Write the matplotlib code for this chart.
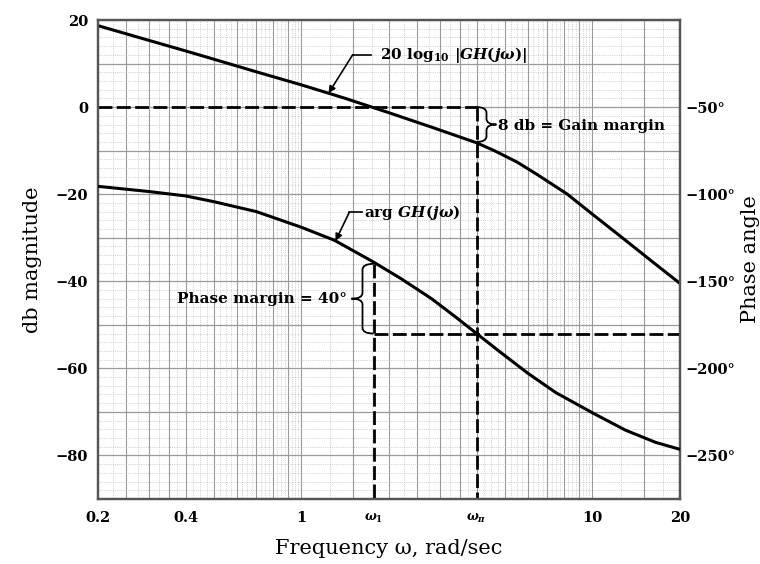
import numpy as np
import matplotlib.pyplot as plt
from matplotlib.path import Path
from matplotlib.patches import PathPatch
from matplotlib.ticker import NullLocator

plt.rcParams['font.family'] = ['DejaVu Serif']
plt.rcParams['mathtext.fontset'] = 'custom'
plt.rcParams['mathtext.rm'] = 'DejaVu Serif:bold'
plt.rcParams['mathtext.it'] = 'DejaVu Serif:italic:bold'
plt.rcParams['mathtext.bf'] = 'DejaVu Serif:bold'

# values
omega_mag = [0.2, 0.3, 0.4, 0.5, 0.7, 1.0, 1.4, 2.0, 2.8, 4.0, 4.6, 5.5, 6.5, 8.2, 10,
             12.5, 16, 20]
mag_db = [18.7, 15.3, 12.9, 11.0, 8.1, 5.1, 2.1, -1.3, -4.6, -8.2, -10.0, -12.6, -15.6,
          -20.0, -24.6, -29.7, -35.4, -40.5]

omega_ph = [0.2, 0.3, 0.4, 0.5, 0.7, 1.0, 1.3, 1.75, 2.2, 2.8, 3.4, 4.0, 4.8, 6.0, 7.5,
            10, 13, 16.5, 20]
phase_deg = [-95.5, -98.5, -101, -104.3, -110, -119, -126.5, -138.5, -148.5, -160,
             -170.7, -180, -190.4, -202.8, -214, -225.5, -235.5, -242.5, -246.5]

omega_1 = 1.77
omega_pi = 4.0
gain_at_wpi = -8.0
phase_at_w1 = -140.0
phase_cross = -180.0

x_ticks = [0.2, 0.4, 1, omega_1, omega_pi, 10, 20]
x_labels = ['0.2', '0.4', '1', r'$\omega_1$', r'$\omega_\pi$', '10', '20']
db_ticks = [20, 0, -20, -40, -60, -80]
phase_ticks = [-50, -100, -150, -200, -250]

fig = plt.figure(figsize=(7.6, 5.64), dpi=100)
ax = fig.add_axes([98 / 760, 1 - 499 / 564, 582 / 760, 479 / 564])
ax.set_xscale('log')
ax.set_xlim(0.2, 20)
ax.set_ylim(-90, 20)

# graph paper
heavy_x = []
light_x = []
for d in [0.1, 1, 10]:
    for k in [1, 1.5, 2, 2.5, 3, 3.5, 4, 5, 6, 7, 8, 9]:
        heavy_x.append(k * d)
    for k in np.arange(1, 10, 0.25):
        light_x.append(k * d)
for v in light_x:
    if 0.2 < v < 20:
        ax.axvline(v, color='#b0b0b0', lw=0.5, ls=':', zorder=0)
for v in heavy_x:
    if 0.2 < v < 20:
        ax.axvline(v, color='#9a9a9a', lw=0.8, zorder=0)
for v in range(-90, 21, 2):
    ax.axhline(v, color='#b0b0b0', lw=0.5, ls=':', zorder=0)
for v in range(-90, 21, 10):
    ax.axhline(v, color='#9a9a9a', lw=0.9, zorder=0)

dash = dict(color='black', lw=2, dashes=[5, 1.6])

ax.plot(omega_mag, mag_db, color='black', lw=2.2, zorder=3)
ax.plot([0.2, omega_pi], [0, 0], **dash)
ax.plot([omega_pi, omega_pi], [0, -90], **dash)

ax.set_xticks(x_ticks, x_labels)
ax.xaxis.set_minor_locator(NullLocator())
ax.set_yticks(db_ticks)
ax.tick_params(length=0, labelsize=10.5)
ax.tick_params(axis='y', pad=7)
ax.tick_params(axis='x', pad=9)
for lbl in ax.get_xticklabels() + ax.get_yticklabels():
    lbl.set_fontweight('bold')
for lbl in ax.get_xticklabels()[3:5]:
    lbl.set_fontsize(9)

ax.set_ylabel('db magnitude', fontsize=15, labelpad=10)
ax.set_xlabel('Frequency \u03c9, rad/sec', fontsize=15, labelpad=10)

tw = ax.twinx()
tw.set_ylim(-275, 0)
tw.plot(omega_ph, phase_deg, color='black', lw=2.2, zorder=3)
tw.plot([omega_1, omega_1], [phase_at_w1, -275], **dash)
tw.plot([omega_1, 20], [phase_cross, phase_cross], **dash)
tw.set_yticks(phase_ticks, ['\u2212%d\u00b0' % abs(v) for v in phase_ticks])
tw.tick_params(length=0, labelsize=10.5, pad=4)
for lbl in tw.get_yticklabels():
    lbl.set_fontweight('bold')
tw.set_ylabel('Phase angle', fontsize=15, labelpad=4)

for a in (ax, tw):
    for s in a.spines.values():
        s.set_color('#555555')
        s.set_linewidth(1.6)


def to_axes(a, x, y):
    return a.transAxes.inverted().transform(a.transData.transform((x, y)))


def brace(a, x, y_top, y_bot, w):
    x0, yt = to_axes(a, x, y_top)
    _, yb = to_axes(a, x, y_bot)
    xm = x0 + 0.5 * w
    xt = x0 + w
    ym = (yt + yb) / 2
    r = 0.012
    verts = [(x0, yt), (xm, yt), (xm, yt - r), (xm, ym + r), (xm, ym), (xt, ym),
             (xm, ym), (xm, ym - r), (xm, yb + r), (xm, yb), (x0, yb)]
    codes = [Path.MOVETO, Path.CURVE3, Path.CURVE3, Path.LINETO, Path.CURVE3, Path.CURVE3,
             Path.CURVE3, Path.CURVE3, Path.LINETO, Path.CURVE3, Path.CURVE3]
    a.add_patch(PathPatch(Path(verts, codes), transform=a.transAxes, fill=False,
                          lw=1.3, color='black', zorder=4))


brace(ax, omega_pi, 0, gain_at_wpi, 0.034)
brace(tw, omega_1, phase_at_w1, phase_cross, -0.038)

arrow = dict(arrowstyle='-|>', color='black', lw=1.2, mutation_scale=10, shrinkA=0, shrinkB=0)

# magnitude label and leader
tip_w = 1.24
tip_m = np.interp(np.log10(tip_w), np.log10(omega_mag), mag_db)
ax.plot([1.73, 1.50], [12.0, 12.0], color='black', lw=1.2)
ax.annotate('', xy=(tip_w, tip_m), xytext=(1.50, 12.0), arrowprops=arrow)
ax.text(1.86, 12.0, r'$\mathrm{20\ log_{10}}\ |GH(j\omega)|$', fontsize=11,
        ha='left', va='center')

# phase label and leader
tip_w = 1.31
tip_p = np.interp(np.log10(tip_w), np.log10(omega_ph), phase_deg)
tw.plot([1.61, 1.46], [-110.5, -110.5], color='black', lw=1.2)
tw.annotate('', xy=(tip_w, tip_p), xytext=(1.46, -110.5), arrowprops=arrow)
tw.text(1.64, -110.5, r'$\mathrm{arg}\ GH(j\omega)$', fontsize=11, ha='left', va='center')

ax.text(4.75, -4.3, '8 db = Gain margin', fontsize=11, fontweight='bold',
        ha='left', va='center')
tw.text(1.44, -160, 'Phase margin = 40\u00b0', fontsize=11, fontweight='bold',
        ha='right', va='center')

fig.savefig('out.png', dpi=100)
